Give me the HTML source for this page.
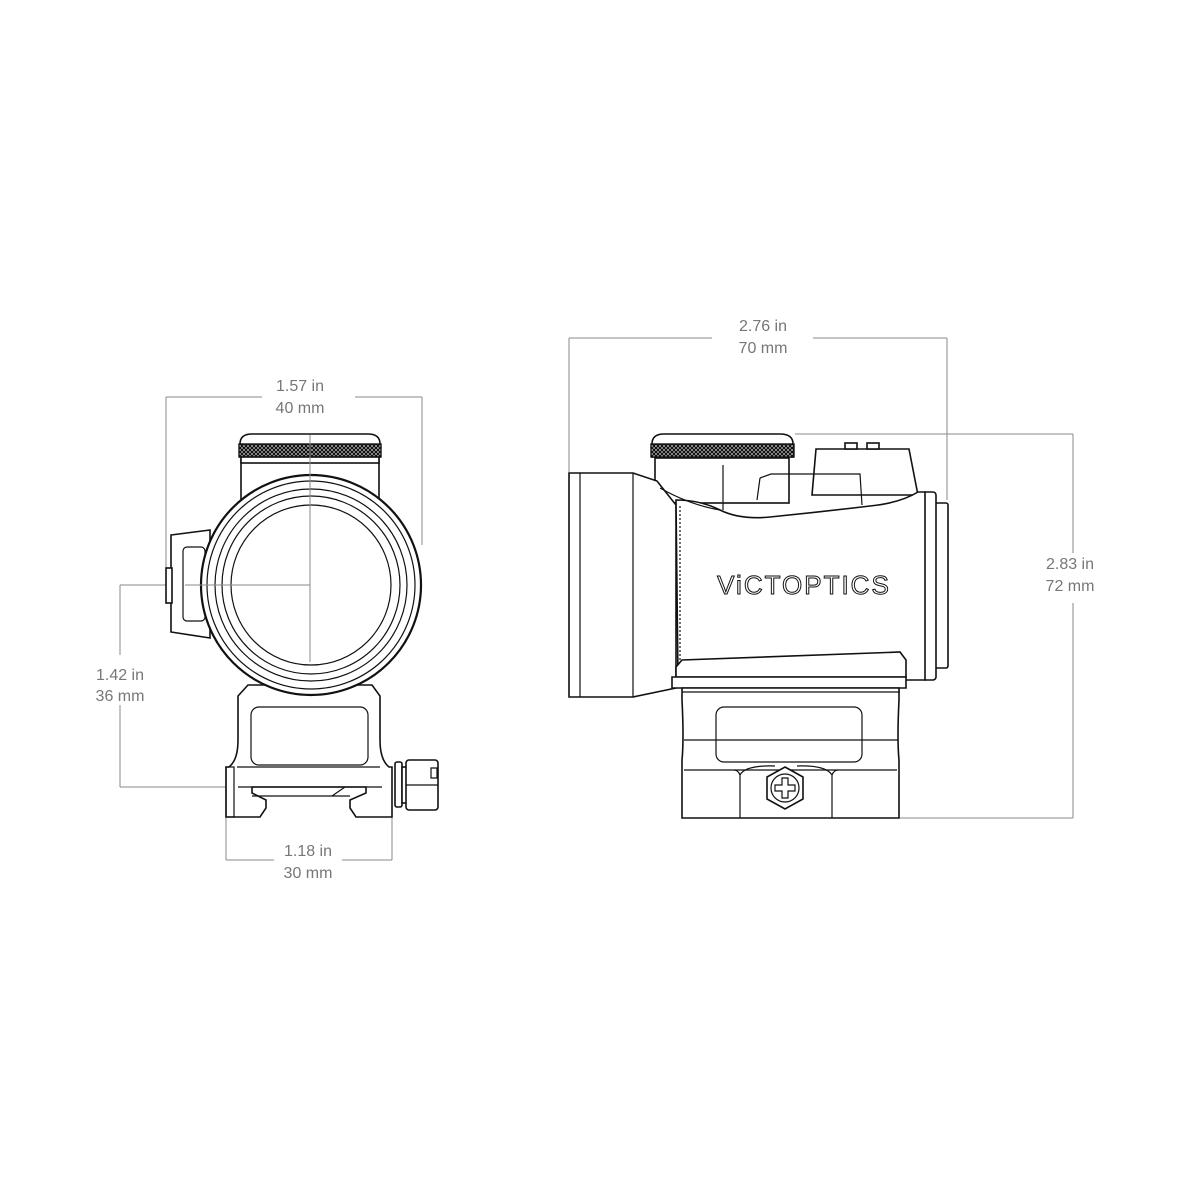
<!DOCTYPE html>
<html><head><meta charset="utf-8"><style>
html,body{margin:0;padding:0;background:#fff;width:1200px;height:1200px;overflow:hidden}
svg{display:block}
.d{stroke:#8a8a8a;stroke-width:1;fill:none}
.t{font-family:"Liberation Sans",sans-serif;font-size:16px;fill:#777;text-anchor:middle}
.k{stroke:#111;stroke-width:1.6;fill:#fff}
.n{stroke:#111;stroke-width:1.2;fill:none}
</style></head><body>
<svg width="1200" height="1200" viewBox="0 0 1200 1200" xmlns="http://www.w3.org/2000/svg">
<defs>
<pattern id="kn" width="4" height="4" patternUnits="userSpaceOnUse">
<rect width="4" height="4" fill="#fff"/>
<path d="M0 0L4 4M4 0L0 4" stroke="#111" stroke-width="1.5"/>
</pattern>
</defs>

<!-- ================= LEFT VIEW ================= -->
<path class="d" d="M166 397V600M422 397V545M166 397H262M355 397H422"/>
<text class="t" x="300" y="391">1.57 in</text>
<text class="t" x="300" y="413">40 mm</text>
<path class="d" d="M120 585H310M120 787H232M120 585V655M120 705V787"/>
<text class="t" x="120" y="680">1.42 in</text>
<text class="t" x="120" y="701">36 mm</text>
<path class="d" d="M226 800V860M392 800V860M226 860H274M342 860H392"/>
<text class="t" x="308" y="856">1.18 in</text>
<text class="t" x="308" y="878">30 mm</text>

<rect class="k" x="241" y="460" width="138" height="45"/>
<path class="k" d="M240 444Q240 434 252 434H368Q380 434 380 444V457H240Z"/>
<rect x="239" y="444" width="142" height="13" fill="url(#kn)" stroke="#111" stroke-width="1.4"/>
<rect class="k" x="241" y="457" width="138" height="6"/>
<path class="k" d="M171 535L210 530V638L171 632Z"/>
<rect class="k" x="166" y="568" width="6" height="35"/>
<rect class="n" x="183" y="547" width="22" height="74" rx="4"/>
<path class="k" d="M248 685H372L380 696V740Q380 760 389 767H392V817H356L350 808V800L366 793V787H252V793L266 800V808L260 817H226V767H229Q238 760 238 740V696Z"/>
<rect class="n" x="251" y="707" width="117" height="58" rx="8"/>
<path class="n" d="M237 767H380M238 787H382"/>
<rect class="n" x="226" y="767" width="8" height="50"/>
<path class="n" d="M252 796H350M332 796L345 787"/>
<rect class="k" x="395" y="762" width="7" height="45" rx="2"/>
<rect class="k" x="402" y="767" width="5" height="36"/>
<rect class="k" x="406" y="760" width="32" height="50" rx="3"/>
<path class="n" d="M406 785H438M431 768h6v10h-6z"/>
<circle cx="311" cy="585" r="110" fill="#fff" stroke="#111" stroke-width="2.2"/>
<circle class="n" cx="311" cy="585" r="104"/>
<circle class="n" cx="311" cy="585" r="96"/>
<circle class="n" cx="311" cy="585" r="89"/>
<circle class="n" cx="311" cy="585" r="80" stroke-width="1.4"/>
<path class="d" d="M310 435V662M185 585H310"/>

<!-- ================= RIGHT VIEW ================= -->
<path class="d" d="M569 338V472M947 338V500M569 338H712M813 338H947"/>
<text class="t" x="763" y="331">2.76 in</text>
<text class="t" x="763" y="353">70 mm</text>
<path class="d" d="M795 434H1073M900 818H1073M1073 434V553M1073 603V818"/>
<text class="t" x="1070" y="569">2.83 in</text>
<text class="t" x="1070" y="591">72 mm</text>

<rect class="k" x="935" y="503" width="13" height="165" rx="2"/>
<rect class="k" x="922" y="492" width="14" height="188" rx="3"/>
<path class="k" d="M816 449H909L916 485L918 495H812Z"/>
<rect class="k" x="845" y="443" width="12" height="6"/>
<rect class="k" x="867" y="443" width="12" height="6"/>
<rect class="k" x="655" y="458" width="134" height="45"/>
<path class="k" d="M652 444Q652 434 664 434H780Q793 434 793 444V457H652Z"/>
<rect x="651" y="444" width="143" height="13" fill="url(#kn)" stroke="#111" stroke-width="1.4"/>
<path class="n" d="M723 465V510"/>
<path class="k" d="M569 473H633L657 481L676 505V688L633 697H569Z"/>
<path class="n" d="M580 473V697M633 473V697"/>
<path class="k" d="M676 500Q700 500 720 510Q740 520 770 517Q820 512 870 506Q900 503 918 492H925V680H678Z"/>
<path class="n" d="M660 488Q690 505 720 510M760 478L771 474H860L862 505M760 478L757 500"/>
<path class="n" d="M680 506V660" stroke-dasharray="2 2" stroke-width="2"/>
<path class="k" d="M676 667L682 660L900 652L906 660V677H676Z"/>
<path class="k" d="M672 677H906V688H672Z"/>
<path class="k" d="M682 688H899V700Q897 740 899 760V818H682V760Q684 740 682 700Z"/>
<path class="n" d="M682 692H900M684 740H898M684 770H897"/>
<rect class="n" x="716" y="707" width="146" height="55" rx="8"/>
<path class="n" d="M734 770Q738 770 740 775V818M838 770Q834 770 832 775V818M740 775Q745 765 775 766M832 775Q826 765 797 766"/>
<polygon class="k" points="785,767 803,777 803,799 785,809 767,799 767,777"/>
<circle class="n" cx="785" cy="788" r="14"/>
<path class="n" d="M782 778h6v7h7v6h-7v7h-6v-7h-7v-6h7z"/>
<text x="804" y="594" font-family="Liberation Sans,sans-serif" font-size="26" letter-spacing="2" text-anchor="middle" fill="#fff" stroke="#111" stroke-width="1">ViCTOPTICS</text>
</svg>
</body></html>
